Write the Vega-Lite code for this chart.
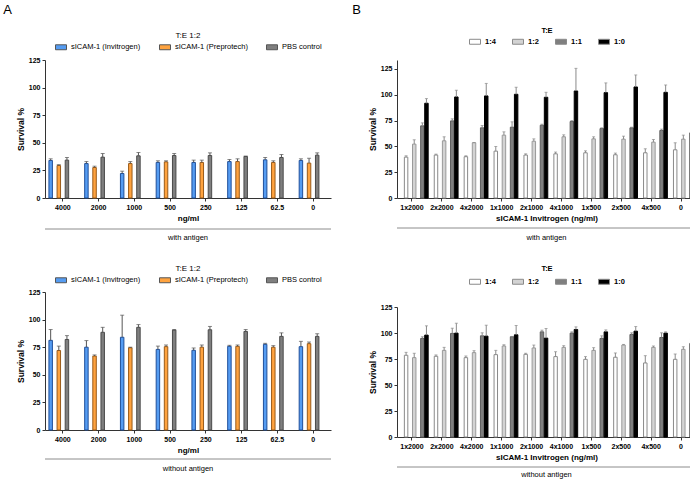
{
  "$schema": "https://vega.github.io/schema/vega-lite/v6.json",
  "padding": {"left": 3, "top": 4, "right": 2, "bottom": 0},
  "background": "white",
  "datasets": {
    "A1": [
      {"conc":"4000","group":"sICAM-1 (Invitrogen)","survival":34.0,"upper":35.5},
      {"conc":"4000","group":"sICAM-1 (Preprotech)","survival":29.4,"upper":30.2},
      {"conc":"4000","group":"PBS control","survival":34.3,"upper":36.7},
      {"conc":"2000","group":"sICAM-1 (Invitrogen)","survival":31.2,"upper":33.0},
      {"conc":"2000","group":"sICAM-1 (Preprotech)","survival":27.6,"upper":28.8},
      {"conc":"2000","group":"PBS control","survival":37.0,"upper":40.3},
      {"conc":"1000","group":"sICAM-1 (Invitrogen)","survival":22.2,"upper":24.3},
      {"conc":"1000","group":"sICAM-1 (Preprotech)","survival":31.2,"upper":33.0},
      {"conc":"1000","group":"PBS control","survival":38.2,"upper":41.2},
      {"conc":"500","group":"sICAM-1 (Invitrogen)","survival":32.2,"upper":33.7},
      {"conc":"500","group":"sICAM-1 (Preprotech)","survival":32.7,"upper":33.7},
      {"conc":"500","group":"PBS control","survival":38.5,"upper":40.3},
      {"conc":"250","group":"sICAM-1 (Invitrogen)","survival":32.2,"upper":34.3},
      {"conc":"250","group":"sICAM-1 (Preprotech)","survival":32.2,"upper":34.3},
      {"conc":"250","group":"PBS control","survival":38.5,"upper":40.9},
      {"conc":"125","group":"sICAM-1 (Invitrogen)","survival":33.0,"upper":34.9},
      {"conc":"125","group":"sICAM-1 (Preprotech)","survival":33.0,"upper":35.5},
      {"conc":"125","group":"PBS control","survival":37.6,"upper":38.0},
      {"conc":"62.5","group":"sICAM-1 (Invitrogen)","survival":34.6,"upper":36.7},
      {"conc":"62.5","group":"sICAM-1 (Preprotech)","survival":32.2,"upper":33.7},
      {"conc":"62.5","group":"PBS control","survival":36.7,"upper":39.4},
      {"conc":"0","group":"sICAM-1 (Invitrogen)","survival":34.0,"upper":35.5},
      {"conc":"0","group":"sICAM-1 (Preprotech)","survival":31.6,"upper":36.0},
      {"conc":"0","group":"PBS control","survival":38.8,"upper":40.9}
    ],
    "A2": [
      {"conc":"4000","group":"sICAM-1 (Invitrogen)","survival":81.2,"upper":91.0},
      {"conc":"4000","group":"sICAM-1 (Preprotech)","survival":72.0,"upper":76.0},
      {"conc":"4000","group":"PBS control","survival":82.0,"upper":85.5},
      {"conc":"2000","group":"sICAM-1 (Invitrogen)","survival":75.0,"upper":81.0},
      {"conc":"2000","group":"sICAM-1 (Preprotech)","survival":67.0,"upper":68.0},
      {"conc":"2000","group":"PBS control","survival":88.5,"upper":93.0},
      {"conc":"1000","group":"sICAM-1 (Invitrogen)","survival":84.0,"upper":104.0},
      {"conc":"1000","group":"sICAM-1 (Preprotech)","survival":74.5,"upper":75.0},
      {"conc":"1000","group":"PBS control","survival":93.0,"upper":95.5},
      {"conc":"500","group":"sICAM-1 (Invitrogen)","survival":73.0,"upper":76.0},
      {"conc":"500","group":"sICAM-1 (Preprotech)","survival":75.5,"upper":77.0},
      {"conc":"500","group":"PBS control","survival":90.5,"upper":91.0},
      {"conc":"250","group":"sICAM-1 (Invitrogen)","survival":72.2,"upper":74.3},
      {"conc":"250","group":"sICAM-1 (Preprotech)","survival":75.0,"upper":77.0},
      {"conc":"250","group":"PBS control","survival":90.8,"upper":93.8},
      {"conc":"125","group":"sICAM-1 (Invitrogen)","survival":75.8,"upper":76.7},
      {"conc":"125","group":"sICAM-1 (Preprotech)","survival":75.8,"upper":77.0},
      {"conc":"125","group":"PBS control","survival":89.3,"upper":91.0},
      {"conc":"62.5","group":"sICAM-1 (Invitrogen)","survival":77.6,"upper":78.5},
      {"conc":"62.5","group":"sICAM-1 (Preprotech)","survival":75.0,"upper":76.4},
      {"conc":"62.5","group":"PBS control","survival":84.8,"upper":88.0},
      {"conc":"0","group":"sICAM-1 (Invitrogen)","survival":75.5,"upper":80.3},
      {"conc":"0","group":"sICAM-1 (Preprotech)","survival":78.2,"upper":79.7},
      {"conc":"0","group":"PBS control","survival":84.8,"upper":87.2}
    ],
    "B1": [
      {"conc":"1x2000","group":"1:4","survival":39.6,"upper":40.9},
      {"conc":"1x2000","group":"1:2","survival":52.2,"upper":56.4},
      {"conc":"1x2000","group":"1:1","survival":69.9,"upper":72.8},
      {"conc":"1x2000","group":"1:0","survival":91.8,"upper":96.3},
      {"conc":"2x2000","group":"1:4","survival":41.6,"upper":42.5},
      {"conc":"2x2000","group":"1:2","survival":55.4,"upper":59.3},
      {"conc":"2x2000","group":"1:1","survival":74.7,"upper":76.7},
      {"conc":"2x2000","group":"1:0","survival":97.9,"upper":104.4},
      {"conc":"4x2000","group":"1:4","survival":40.0,"upper":40.9},
      {"conc":"4x2000","group":"1:2","survival":53.5,"upper":53.8},
      {"conc":"4x2000","group":"1:1","survival":68.0,"upper":70.2},
      {"conc":"4x2000","group":"1:0","survival":98.9,"upper":111.0},
      {"conc":"1x1000","group":"1:4","survival":45.4,"upper":49.9},
      {"conc":"1x1000","group":"1:2","survival":60.9,"upper":64.1},
      {"conc":"1x1000","group":"1:1","survival":68.6,"upper":73.8},
      {"conc":"1x1000","group":"1:0","survival":100.5,"upper":107.3},
      {"conc":"2x1000","group":"1:4","survival":41.6,"upper":42.8},
      {"conc":"2x1000","group":"1:2","survival":55.0,"upper":57.3},
      {"conc":"2x1000","group":"1:1","survival":70.5,"upper":71.5},
      {"conc":"2x1000","group":"1:0","survival":97.6,"upper":102.4},
      {"conc":"4x1000","group":"1:4","survival":42.8,"upper":44.5},
      {"conc":"4x1000","group":"1:2","survival":59.3,"upper":61.2},
      {"conc":"4x1000","group":"1:1","survival":74.1,"upper":75.0},
      {"conc":"4x1000","group":"1:0","survival":103.7,"upper":125.6},
      {"conc":"1x500","group":"1:4","survival":43.8,"upper":45.7},
      {"conc":"1x500","group":"1:2","survival":57.3,"upper":59.3},
      {"conc":"1x500","group":"1:1","survival":67.3,"upper":68.0},
      {"conc":"1x500","group":"1:0","survival":102.1,"upper":111.5},
      {"conc":"2x500","group":"1:4","survival":41.9,"upper":43.5},
      {"conc":"2x500","group":"1:2","survival":57.0,"upper":59.9},
      {"conc":"2x500","group":"1:1","survival":68.0,"upper":68.6},
      {"conc":"2x500","group":"1:0","survival":107.6,"upper":119.2},
      {"conc":"4x500","group":"1:4","survival":43.8,"upper":47.7},
      {"conc":"4x500","group":"1:2","survival":54.1,"upper":56.7},
      {"conc":"4x500","group":"1:1","survival":65.4,"upper":66.7},
      {"conc":"4x500","group":"1:0","survival":102.4,"upper":109.5},
      {"conc":"0","group":"1:4","survival":46.7,"upper":53.5},
      {"conc":"0","group":"1:2","survival":57.0,"upper":60.9},
      {"conc":"0","group":"1:1","survival":63.1,"upper":67.7},
      {"conc":"0","group":"1:0","survival":102.8,"upper":117.3}
    ],
    "B2": [
      {"conc":"1x2000","group":"1:4","survival":78.6,"upper":81.4},
      {"conc":"1x2000","group":"1:2","survival":76.3,"upper":80.5},
      {"conc":"1x2000","group":"1:1","survival":94.8,"upper":96.4},
      {"conc":"1x2000","group":"1:0","survival":98.0,"upper":106.9},
      {"conc":"2x2000","group":"1:4","survival":77.6,"upper":78.9},
      {"conc":"2x2000","group":"1:2","survival":83.3,"upper":86.2},
      {"conc":"2x2000","group":"1:1","survival":99.6,"upper":104.6},
      {"conc":"2x2000","group":"1:0","survival":99.9,"upper":109.4},
      {"conc":"4x2000","group":"1:4","survival":76.3,"upper":77.9},
      {"conc":"4x2000","group":"1:2","survival":81.1,"upper":83.0},
      {"conc":"4x2000","group":"1:1","survival":97.3,"upper":100.2},
      {"conc":"4x2000","group":"1:0","survival":97.0,"upper":107.5},
      {"conc":"1x1000","group":"1:4","survival":79.2,"upper":83.3},
      {"conc":"1x1000","group":"1:2","survival":87.5,"upper":88.7},
      {"conc":"1x1000","group":"1:1","survival":96.4,"upper":96.7},
      {"conc":"1x1000","group":"1:0","survival":98.3,"upper":107.2},
      {"conc":"2x1000","group":"1:4","survival":79.5,"upper":80.5},
      {"conc":"2x1000","group":"1:2","survival":85.6,"upper":88.4},
      {"conc":"2x1000","group":"1:1","survival":101.1,"upper":102.7},
      {"conc":"2x1000","group":"1:0","survival":95.1,"upper":104.3},
      {"conc":"4x1000","group":"1:4","survival":77.3,"upper":82.0},
      {"conc":"4x1000","group":"1:2","survival":86.2,"upper":87.8},
      {"conc":"4x1000","group":"1:1","survival":99.9,"upper":101.1},
      {"conc":"4x1000","group":"1:0","survival":103.4,"upper":105.9},
      {"conc":"1x500","group":"1:4","survival":74.7,"upper":77.3},
      {"conc":"1x500","group":"1:2","survival":83.3,"upper":85.9},
      {"conc":"1x500","group":"1:1","survival":94.8,"upper":97.3},
      {"conc":"1x500","group":"1:0","survival":101.1,"upper":103.0},
      {"conc":"2x500","group":"1:4","survival":76.7,"upper":80.8},
      {"conc":"2x500","group":"1:2","survival":88.4,"upper":89.0},
      {"conc":"2x500","group":"1:1","survival":98.6,"upper":100.2},
      {"conc":"2x500","group":"1:0","survival":101.8,"upper":106.2},
      {"conc":"4x500","group":"1:4","survival":71.2,"upper":78.2},
      {"conc":"4x500","group":"1:2","survival":86.2,"upper":87.5},
      {"conc":"4x500","group":"1:1","survival":95.7,"upper":100.2},
      {"conc":"4x500","group":"1:0","survival":99.9,"upper":101.1},
      {"conc":"0","group":"1:4","survival":74.7,"upper":79.8},
      {"conc":"0","group":"1:2","survival":84.3,"upper":86.8},
      {"conc":"0","group":"1:1","survival":90.0,"upper":94.1},
      {"conc":"0","group":"1:0","survival":100.5,"upper":104.3}
    ]
  },
  "hconcat": [
    {
      "title": {"text": "A", "anchor": "start", "fontSize": 13, "fontWeight": "normal", "dx": -13, "offset": 15},
      "spacing": 23,
      "resolve": {"scale": {"color": "independent", "stroke": "independent"}, "legend": {"color": "independent", "stroke": "independent"}},
      "vconcat": [
        {
          "spacing": 6,
          "resolve": {"scale": {"color": "independent", "stroke": "independent"}, "legend": {"color": "independent", "stroke": "independent"}},
          "vconcat": [
            {
              "width": 286, "height": 138,
              "data": {"name": "A1"},
              "encoding": {
                "x": {"field": "conc", "type": "nominal", "sort": ["4000","2000","1000","500","250","125","62.5","0"], "scale": {"type": "band", "paddingInner": 0.22, "paddingOuter": 0.11}, "axis": {"title": "ng/ml", "labelAngle": 0}},
                "xOffset": {"field": "group", "type": "nominal", "sort": ["sICAM-1 (Invitrogen)","sICAM-1 (Preprotech)","PBS control"], "scale": {"type": "band", "paddingInner": 0.15, "paddingOuter": 0}},
                "y": {"field": "survival", "type": "quantitative", "scale": {"domain": [0, 125], "nice": false}, "axis": {"title": "Survival %", "values": [0, 25, 50, 75, 100, 125]}}
              },
              "layer": [
                {
                  "mark": {"type": "bar", "strokeWidth": 1},
                  "encoding": {
                    "color": {"field": "group", "type": "nominal", "sort": ["sICAM-1 (Invitrogen)","sICAM-1 (Preprotech)","PBS control"], "scale": {"range": ["#559cf2", "#ffa33f", "#7f7f7f"]}, "legend": {"title": "T:E 1:2", "orient": "top", "direction": "horizontal", "titleAnchor": "middle", "titleOrient": "top", "titleFontWeight": "normal", "titleFontSize": 8, "labelFontSize": 7.5, "columnPadding": 16, "offset": 8, "symbolStrokeColor": "#555555"}},
                    "stroke": {"field": "group", "type": "nominal", "sort": ["sICAM-1 (Invitrogen)","sICAM-1 (Preprotech)","PBS control"], "scale": {"range": ["#1f4f9a", "#9a5a18", "#4a4a4a"]}, "legend": null}
                  }
                },
                {"mark": {"type": "rule", "color": "#555555", "strokeWidth": 1}, "encoding": {"y2": {"field": "upper"}}},
                {"mark": {"type": "tick", "color": "#555555", "size": 4, "thickness": 1}, "encoding": {"y": {"field": "upper", "type": "quantitative"}}}
              ]
            },
            {
              "width": 286, "height": 9,
              "data": {"values": [{"label": "with antigen"}]},
              "layer": [
                {"mark": {"type": "rule", "color": "#8c8c8c", "strokeWidth": 1}, "encoding": {"x": {"datum": 0, "type": "quantitative", "scale": {"domain": [0, 1]}, "axis": null}, "x2": {"datum": 1}, "y": {"datum": 1, "type": "quantitative", "scale": {"domain": [0, 1]}, "axis": null}}},
                {"mark": {"type": "text", "fontSize": 7.5, "baseline": "middle", "font": "Liberation Sans"}, "encoding": {"x": {"datum": 0.5, "type": "quantitative"}, "y": {"datum": 0, "type": "quantitative"}, "text": {"field": "label"}}}
              ]
            }
          ]
        },
        {
          "spacing": 4,
          "resolve": {"scale": {"color": "independent", "stroke": "independent"}, "legend": {"color": "independent", "stroke": "independent"}},
          "vconcat": [
            {
              "width": 286, "height": 138,
              "data": {"name": "A2"},
              "encoding": {
                "x": {"field": "conc", "type": "nominal", "sort": ["4000","2000","1000","500","250","125","62.5","0"], "scale": {"type": "band", "paddingInner": 0.22, "paddingOuter": 0.11}, "axis": {"title": "ng/ml", "labelAngle": 0}},
                "xOffset": {"field": "group", "type": "nominal", "sort": ["sICAM-1 (Invitrogen)","sICAM-1 (Preprotech)","PBS control"], "scale": {"type": "band", "paddingInner": 0.15, "paddingOuter": 0}},
                "y": {"field": "survival", "type": "quantitative", "scale": {"domain": [0, 125], "nice": false}, "axis": {"title": "Survival %", "values": [0, 25, 50, 75, 100, 125]}}
              },
              "layer": [
                {
                  "mark": {"type": "bar", "strokeWidth": 1},
                  "encoding": {
                    "color": {"field": "group", "type": "nominal", "sort": ["sICAM-1 (Invitrogen)","sICAM-1 (Preprotech)","PBS control"], "scale": {"range": ["#559cf2", "#ffa33f", "#7f7f7f"]}, "legend": {"title": "T:E 1:2", "orient": "top", "direction": "horizontal", "titleAnchor": "middle", "titleOrient": "top", "titleFontWeight": "normal", "titleFontSize": 8, "labelFontSize": 7.5, "columnPadding": 16, "offset": 7, "symbolStrokeColor": "#555555"}},
                    "stroke": {"field": "group", "type": "nominal", "sort": ["sICAM-1 (Invitrogen)","sICAM-1 (Preprotech)","PBS control"], "scale": {"range": ["#1f4f9a", "#9a5a18", "#4a4a4a"]}, "legend": null}
                  }
                },
                {"mark": {"type": "rule", "color": "#555555", "strokeWidth": 1}, "encoding": {"y2": {"field": "upper"}}},
                {"mark": {"type": "tick", "color": "#555555", "size": 4, "thickness": 1}, "encoding": {"y": {"field": "upper", "type": "quantitative"}}}
              ]
            },
            {
              "width": 286, "height": 10,
              "data": {"values": [{"label": "without antigen"}]},
              "layer": [
                {"mark": {"type": "rule", "color": "#8c8c8c", "strokeWidth": 1}, "encoding": {"x": {"datum": 0, "type": "quantitative", "scale": {"domain": [0, 1]}, "axis": null}, "x2": {"datum": 1}, "y": {"datum": 1, "type": "quantitative", "scale": {"domain": [0, 1]}, "axis": null}}},
                {"mark": {"type": "text", "fontSize": 7.5, "baseline": "middle", "font": "Liberation Sans"}, "encoding": {"x": {"datum": 0.5, "type": "quantitative"}, "y": {"datum": 0, "type": "quantitative"}, "text": {"field": "label"}}}
              ]
            }
          ]
        }
      ]
    },
    {
      "title": {"text": "B", "anchor": "start", "fontSize": 13, "fontWeight": "normal", "dx": -16, "offset": 10},
      "spacing": 23,
      "resolve": {"scale": {"color": "independent", "stroke": "independent"}, "legend": {"color": "independent", "stroke": "independent"}},
      "vconcat": [
        {
          "spacing": 5,
          "resolve": {"scale": {"color": "independent", "stroke": "independent"}, "legend": {"color": "independent", "stroke": "independent"}},
          "vconcat": [
            {
              "width": 299, "height": 138,
              "data": {"name": "B1"},
              "encoding": {
                "x": {"field": "conc", "type": "nominal", "sort": ["1x2000","2x2000","4x2000","1x1000","2x1000","4x1000","1x500","2x500","4x500","0"], "scale": {"type": "band", "paddingInner": 0.22, "paddingOuter": 0.11}, "axis": {"title": "sICAM-1 Invitrogen (ng/ml)", "labelAngle": 0}},
                "xOffset": {"field": "group", "type": "nominal", "sort": ["1:4","1:2","1:1","1:0"], "scale": {"type": "band", "paddingInner": 0.3, "paddingOuter": 0}},
                "y": {"field": "survival", "type": "quantitative", "scale": {"domain": [0, 133.7], "nice": false}, "axis": {"title": "Survival %", "values": [0, 25, 50, 75, 100, 125]}}
              },
              "layer": [
                {
                  "mark": {"type": "bar", "strokeWidth": 1},
                  "encoding": {
                    "color": {"field": "group", "type": "nominal", "sort": ["1:4","1:2","1:1","1:0"], "scale": {"range": ["#ffffff", "#d3d3d3", "#7f7f7f", "#000000"]}, "legend": {"title": "T:E", "orient": "top", "direction": "horizontal", "titleAnchor": "middle", "titleOrient": "top", "titleFontWeight": "bold", "titleFontSize": 7.5, "titlePadding": 1, "labelFontSize": 7.5, "labelFontWeight": "bold", "columnPadding": 14, "offset": 13, "symbolStrokeColor": "#8a8a8a"}},
                    "stroke": {"field": "group", "type": "nominal", "sort": ["1:4","1:2","1:1","1:0"], "scale": {"range": ["#8a8a8a", "#9a9a9a", "#5e5e5e", "#000000"]}, "legend": null}
                  }
                },
                {"mark": {"type": "rule", "color": "#8a8a8a", "strokeWidth": 1}, "encoding": {"y2": {"field": "upper"}}},
                {"mark": {"type": "tick", "color": "#8a8a8a", "size": 3, "thickness": 1}, "encoding": {"y": {"field": "upper", "type": "quantitative"}}}
              ]
            },
            {
              "width": 299, "height": 10,
              "data": {"values": [{"label": "with antigen"}]},
              "layer": [
                {"mark": {"type": "rule", "color": "#8c8c8c", "strokeWidth": 1}, "encoding": {"x": {"datum": 0, "type": "quantitative", "scale": {"domain": [0, 1]}, "axis": null}, "x2": {"datum": 1}, "y": {"datum": 1, "type": "quantitative", "scale": {"domain": [0, 1]}, "axis": null}}},
                {"mark": {"type": "text", "fontSize": 7.5, "baseline": "middle", "font": "Liberation Sans"}, "encoding": {"x": {"datum": 0.5, "type": "quantitative"}, "y": {"datum": 0, "type": "quantitative"}, "text": {"field": "label"}}}
              ]
            }
          ]
        },
        {
          "spacing": 5,
          "resolve": {"scale": {"color": "independent", "stroke": "independent"}, "legend": {"color": "independent", "stroke": "independent"}},
          "vconcat": [
            {
              "width": 299, "height": 130,
              "data": {"name": "B2"},
              "encoding": {
                "x": {"field": "conc", "type": "nominal", "sort": ["1x2000","2x2000","4x2000","1x1000","2x1000","4x1000","1x500","2x500","4x500","0"], "scale": {"type": "band", "paddingInner": 0.22, "paddingOuter": 0.11}, "axis": {"title": "sICAM-1 Invitrogen (ng/ml)", "labelAngle": 0}},
                "xOffset": {"field": "group", "type": "nominal", "sort": ["1:4","1:2","1:1","1:0"], "scale": {"type": "band", "paddingInner": 0.3, "paddingOuter": 0}},
                "y": {"field": "survival", "type": "quantitative", "scale": {"domain": [0, 125], "nice": false}, "axis": {"title": "Survival %", "values": [0, 25, 50, 75, 100, 125]}}
              },
              "layer": [
                {
                  "mark": {"type": "bar", "strokeWidth": 1},
                  "encoding": {
                    "color": {"field": "group", "type": "nominal", "sort": ["1:4","1:2","1:1","1:0"], "scale": {"range": ["#ffffff", "#d3d3d3", "#7f7f7f", "#000000"]}, "legend": {"title": "T:E", "orient": "top", "direction": "horizontal", "titleAnchor": "middle", "titleOrient": "top", "titleFontWeight": "bold", "titleFontSize": 7.5, "titlePadding": 3, "labelFontSize": 7.5, "labelFontWeight": "bold", "columnPadding": 14, "offset": 20, "symbolStrokeColor": "#8a8a8a"}},
                    "stroke": {"field": "group", "type": "nominal", "sort": ["1:4","1:2","1:1","1:0"], "scale": {"range": ["#8a8a8a", "#9a9a9a", "#5e5e5e", "#000000"]}, "legend": null}
                  }
                },
                {"mark": {"type": "rule", "color": "#8a8a8a", "strokeWidth": 1}, "encoding": {"y2": {"field": "upper"}}},
                {"mark": {"type": "tick", "color": "#8a8a8a", "size": 3, "thickness": 1}, "encoding": {"y": {"field": "upper", "type": "quantitative"}}}
              ]
            },
            {
              "width": 299, "height": 8,
              "data": {"values": [{"label": "without antigen"}]},
              "layer": [
                {"mark": {"type": "rule", "color": "#8c8c8c", "strokeWidth": 1}, "encoding": {"x": {"datum": 0, "type": "quantitative", "scale": {"domain": [0, 1]}, "axis": null}, "x2": {"datum": 1}, "y": {"datum": 1, "type": "quantitative", "scale": {"domain": [0, 1]}, "axis": null}}},
                {"mark": {"type": "text", "fontSize": 7.5, "baseline": "middle", "font": "Liberation Sans"}, "encoding": {"x": {"datum": 0.5, "type": "quantitative"}, "y": {"datum": 0, "type": "quantitative"}, "text": {"field": "label"}}}
              ]
            }
          ]
        }
      ]
    }
  ],
  "spacing": 20,
  "resolve": {"scale": {"color": "independent", "stroke": "independent"}, "legend": {"color": "independent", "stroke": "independent"}},
  "config": {
    "font": "Liberation Sans",
    "view": {"stroke": null},
    "title": {"font": "Liberation Sans", "color": "#000000"},
    "axis": {"grid": false, "labelFontWeight": "bold", "labelFontSize": 7, "labelColor": "#000000", "titleFontWeight": "bold", "titleFontSize": 8, "titleColor": "#000000", "domainColor": "#333333", "tickColor": "#333333", "tickSize": 3, "labelPadding": 2},
    "axisX": {"titlePadding": 4},
    "axisY": {"titlePadding": 3, "titleFontSize": 8.5},
    "legend": {"symbolType": "M-1,-0.45H1V0.45H-1Z", "symbolSize": 121, "symbolStrokeWidth": 1, "labelColor": "#000000", "titleColor": "#000000", "titlePadding": 1, "layout": {"top": {"anchor": "middle"}}}
  }
}
